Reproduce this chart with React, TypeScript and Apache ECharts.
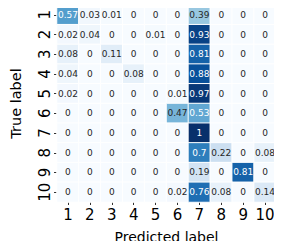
import React, { useEffect, useRef } from "react";
import * as echarts from "echarts";

const labels = ["1", "2", "3", "4", "5", "6", "7", "8", "9", "10"];
const row1 = [0.57, 0.03, 0.01, 0, 0, 0, 0.39, 0, 0, 0];
const row2 = [0.02, 0.04, 0, 0, 0.01, 0, 0.93, 0, 0, 0];
const row3 = [0.08, 0, 0.11, 0, 0, 0, 0.81, 0, 0, 0];
const row4 = [0.04, 0, 0, 0.08, 0, 0, 0.88, 0, 0, 0];
const row5 = [0.02, 0, 0, 0, 0, 0.01, 0.97, 0, 0, 0];
const row6 = [0, 0, 0, 0, 0, 0.47, 0.53, 0, 0, 0];
const row7 = [0, 0, 0, 0, 0, 0, 1, 0, 0, 0];
const row8 = [0, 0, 0, 0, 0, 0, 0.7, 0.22, 0, 0.08];
const row9 = [0, 0, 0, 0, 0, 0, 0.19, 0, 0.81, 0];
const row10 = [0, 0, 0, 0, 0, 0.02, 0.76, 0.08, 0, 0.14];
const matrix = [row1, row2, row3, row4, row5, row6, row7, row8, row9, row10];

const blues = ["#f7fbff", "#deebf7", "#c6dbef", "#9ecae1", "#6baed6", "#4292c6", "#2171b5", "#08519c", "#08306b"];

export default function App() {
  const ref = useRef<HTMLDivElement>(null);
  useEffect(() => {
    if (!ref.current) return;
    const chart = echarts.init(ref.current, undefined, { renderer: "svg" });
    const data: any[] = [];
    matrix.forEach((row, r) => {
      row.forEach((v, c) => {
        data.push({
          value: [c, r, v],
          label: { color: v > 0.5 ? "#ffffff" : "#262626" },
        });
      });
    });
    const font = "DejaVu Sans";
    chart.setOption({
      animation: false,
      grid: { left: 42, top: 5, width: 234, height: 203 },
      xAxis: {
        type: "category",
        data: labels,
        name: "Predicted label",
        nameLocation: "middle",
        nameGap: 28,
        nameTextStyle: { fontFamily: font, fontSize: 14, color: "#000" },
        axisLine: { show: false },
        axisTick: { show: true, alignWithLabel: true, interval: 0, length: 3, lineStyle: { color: "#333" } },
        axisLabel: { fontFamily: font, fontSize: 15, color: "#000", margin: 5, interval: 0 },
        splitLine: { show: false },
      },
      yAxis: {
        type: "category",
        data: labels,
        inverse: true,
        name: "True label",
        nameLocation: "middle",
        nameGap: 34,
        nameTextStyle: { fontFamily: font, fontSize: 14.5, color: "#000" },
        axisLine: { show: false },
        axisTick: { show: true, alignWithLabel: true, interval: 0, length: 3, lineStyle: { color: "#333" } },
        axisLabel: { fontFamily: font, fontSize: 15, color: "#000", rotate: 90, margin: 5, interval: 0 },
        splitLine: { show: false },
      },
      visualMap: {
        show: false,
        min: 0,
        max: 1,
        dimension: 2,
        inRange: { color: blues },
      },
      series: [
        {
          type: "heatmap",
          data,
          label: {
            show: true,
            fontFamily: font,
            fontSize: 9,
            formatter: (p: any) => String(p.value[2]),
          },
          itemStyle: { borderColor: "#ffffff", borderWidth: 1 },
          emphasis: { disabled: true },
        },
      ],
    });
    return () => chart.dispose();
  }, []);
  return <div ref={ref} style={{ width: 282, height: 249, margin: -8 }} />;
}
